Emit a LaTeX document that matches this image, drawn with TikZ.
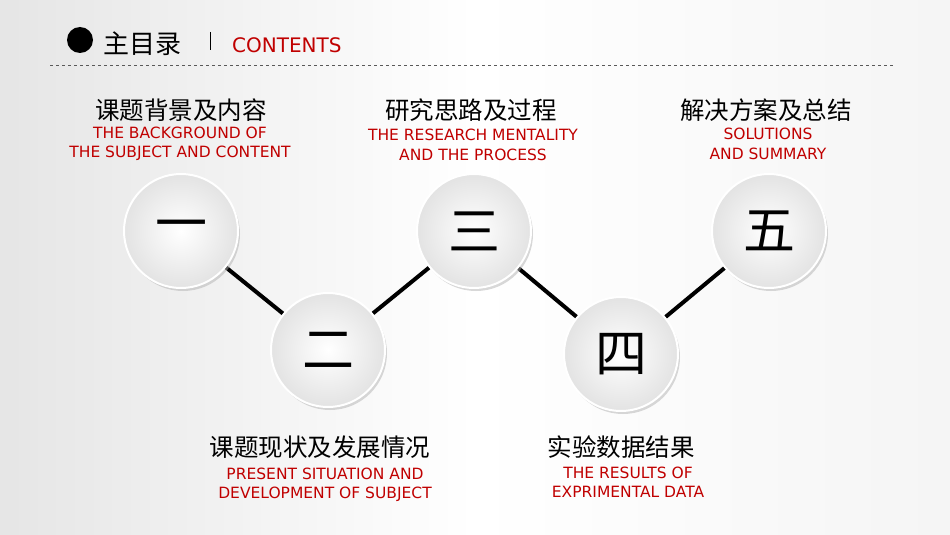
\documentclass[tikz,border=0pt]{standalone}
\usepackage{fontspec}
\setmainfont{DejaVu Sans}
\newfontfamily\cjk{Noto Sans CJK SC}
\usetikzlibrary{shadows}
\definecolor{myred}{HTML}{C00000}
\begin{document}
\begin{tikzpicture}[x=1pt,y=-1pt,
  ball/.style={circle,minimum size=114pt,inner sep=0pt,inner color=white,outer color=gray!22,draw=white,line width=2pt,
     drop shadow={shadow xshift=2pt,shadow yshift=-3pt,fill=gray!60,opacity=0.5},font=\cjk\fontsize{52}{52}\selectfont},
  ttl/.style={font=\cjk\fontsize{24.5}{28}\selectfont,inner sep=0pt},
  sub/.style={font=\fontsize{15.5}{19.5}\selectfont,text=myred,align=center,inner sep=0pt},
  conn/.style={line width=4pt,black}]
\shade[left color=gray!20,right color=gray!8,middle color=white] (0,0) rectangle (950,535);
\useasboundingbox (0,0) rectangle (950,535);
\fill[black] (80,40) circle (13);
\node[font=\cjk\fontsize{26}{28}\selectfont,inner sep=0pt,anchor=west] (hd) at (103,44) {主目录};
\draw[line width=0.8pt] (210,32) -- (210,50);
\node[font=\fontsize{20}{22}\selectfont,text=myred,anchor=west,inner sep=0pt] (ct) at (232,45) {CONTENTS};
\draw[dashed,gray!70!black,line width=0.6pt] (50,65) -- (895,65);
\coordinate (c1) at (181,231);
\coordinate (c2) at (328,350);
\coordinate (c3) at (474,231);
\coordinate (c4) at (621,354);
\coordinate (c5) at (769,231);
\draw[conn] (c1) -- (c2) -- (c3) -- (c4) -- (c5);
\node[ball] (n1) at (c1) {一};
\node[ball] (n2) at (c2) {二};
\node[ball] (n3) at (c3) {三};
\node[ball] (n4) at (c4) {四};
\node[ball] (n5) at (c5) {五};
\node[ttl] (t1) at (181,110) {课题背景及内容};
\node[sub] (s1) at (180,144) {THE BACKGROUND OF\\THE SUBJECT AND CONTENT};
\node[ttl] (t3) at (471,110) {研究思路及过程};
\node[sub] (s3) at (473,145) {THE RESEARCH MENTALITY\\AND THE PROCESS};
\node[ttl] (t5) at (766,110) {解决方案及总结};
\node[sub] (s5) at (768,144) {SOLUTIONS\\AND SUMMARY};
\node[ttl] (t2) at (320,447) {课题现状及发展情况};
\node[sub] (s2) at (325,485) {PRESENT SITUATION AND\\DEVELOPMENT OF SUBJECT};
\node[ttl] (t4) at (621,447) {实验数据结果};
\node[sub] (s4) at (628,482) {THE RESULTS OF\\EXPRIMENTAL DATA};
\end{tikzpicture}
\end{document}
